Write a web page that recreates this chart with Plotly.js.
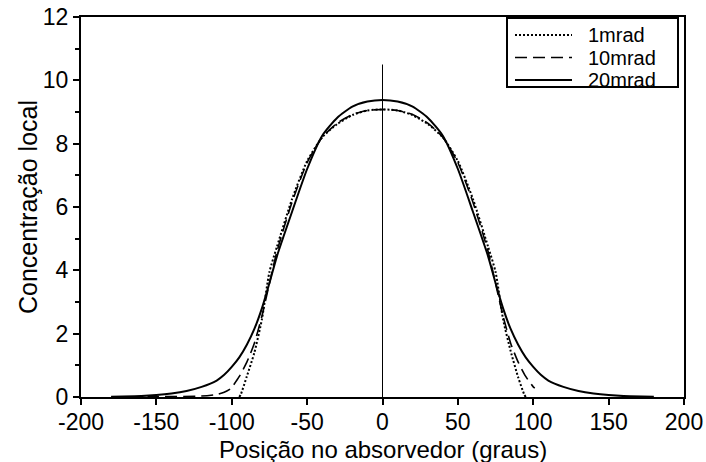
<!DOCTYPE html>
<html>
<head>
<meta charset="utf-8">
<script src="https://cdn.plot.ly/plotly-3.0.1.min.js"></script>
<style>html,body{margin:0;padding:0;background:#fff}#chart{width:706px;height:462px}</style>
</head>
<body>
<div id="chart"></div>
<script>
// Data
const seriesNames = ["1mrad", "10mrad", "20mrad"];
const seriesDash = ["2px,2px", "12px,6px", "solid"];
const seriesWidth = [2, 1.6, 2];

const x1mrad = [-95, -94, -90, -85, -80, -75, -70, -60, -50, -40, -30, -20, -10, 0, 10, 20, 30, 40, 50, 60, 70, 75, 80, 85, 90, 94, 95];
const y1mrad = [0, 0.08, 0.65, 1.4, 2.45, 3.95, 4.75, 6.25, 7.45, 8.2, 8.62, 8.9, 9.05, 9.08, 9.05, 8.9, 8.62, 8.2, 7.45, 6.25, 4.75, 3.95, 2.45, 1.45, 0.62, 0.08, 0];

const x10mrad = [-180, -150, -120, -110, -105, -101, -100, -95, -90, -85, -80, -70, -60, -50, -40, -30, -20, -10, 0, 10, 20, 30, 40, 50, 60, 70, 80, 85, 90, 95, 100, 101];
const y10mrad = [0, 0.01, 0.03, 0.08, 0.15, 0.25, 0.3, 0.65, 1.1, 1.7, 2.55, 4.6, 6.15, 7.4, 8.2, 8.65, 8.92, 9.05, 9.08, 9.05, 8.92, 8.65, 8.2, 7.4, 6.15, 4.6, 2.55, 1.7, 1.1, 0.65, 0.32, 0.28];

const x20mrad = [-180, -160, -150, -140, -130, -120, -110, -105, -100, -95, -90, -85, -80, -75, -70, -60, -50, -40, -30, -20, -10, 0, 10, 20, 30, 40, 50, 60, 70, 75, 80, 85, 90, 95, 100, 105, 110, 120, 130, 140, 150, 160, 180];
const y20mrad = [0.01, 0.03, 0.06, 0.11, 0.19, 0.32, 0.52, 0.7, 0.95, 1.25, 1.65, 2.15, 2.8, 3.6, 4.45, 5.85, 7.2, 8.25, 8.82, 9.17, 9.33, 9.38, 9.33, 9.17, 8.82, 8.25, 7.2, 5.85, 4.45, 3.6, 2.8, 2.15, 1.65, 1.25, 0.95, 0.7, 0.52, 0.32, 0.19, 0.11, 0.06, 0.03, 0.01];

const centerLineX = 0;
const centerLineTop = 10.5;

const xTickVals = [-200, -150, -100, -50, 0, 50, 100, 150, 200];
const xTickText = ["-200", "-150", "-100", "-50", "0", "50", "100", "150", "200"];
const yTickVals = [0, 2, 4, 6, 8, 10, 12];
const yTickText = ["0", "2", "4", "6", "8", "10", "12"];
const xTitle = "Posição no absorvedor (graus)";
const yTitle = "Concentração local";

const font = "Liberation Sans, Arial, sans-serif";
const fs = 23;
const legFs = 20;

const W = 706, H = 462;
const M = {l: 81, r: 22, t: 17, b: 65};
const pw = W - M.l - M.r, ph = H - M.t - M.b;
const px = v => (v - M.l) / pw;       // pixel x -> paper x
const py = v => 1 - (v - M.t) / ph;   // pixel y -> paper y

const xs = [x1mrad, x10mrad, x20mrad];
const ys = [y1mrad, y10mrad, y20mrad];

const traces = xs.map((x, i) => ({
  x: x, y: ys[i], name: seriesNames[i], mode: "lines", showlegend: false,
  line: {color: "#000", width: seriesWidth[i], dash: seriesDash[i], shape: "spline", smoothing: 0.6}
}));

// Legend box (drawn by hand so the rows can be as tight as in the reference)
const legBox = {x0: 507, x1: 678, y0: 18, y1: 87};
const legRows = [35, 57.5, 80];
const legLine = [515, 572];
const legTextX = 587;

const shapes = [
  {type: "line", xref: "x", yref: "y", x0: centerLineX, x1: centerLineX, y0: 0, y1: centerLineTop,
   line: {color: "#000", width: 1}},
  {type: "rect", xref: "paper", yref: "paper", x0: px(legBox.x0), x1: px(legBox.x1), y0: py(legBox.y1), y1: py(legBox.y0),
   fillcolor: "#fff", line: {color: "#000", width: 2}, layer: "above"}
];
const annotations = [
  {xref: "paper", yref: "paper", x: 0.5, y: py(449), xanchor: "center", yanchor: "middle",
   text: xTitle, showarrow: false, borderpad: 0, font: {family: font, size: 24, color: "#000"}},
  {xref: "paper", yref: "paper", x: px(28), y: 0.5, xanchor: "center", yanchor: "middle", textangle: -90,
   text: yTitle, showarrow: false, borderpad: 0, font: {family: font, size: 25, color: "#000"}}
];
seriesNames.forEach((n, i) => {
  shapes.push({type: "line", xref: "paper", yref: "paper", x0: px(legLine[0]), x1: px(legLine[1]),
    y0: py(legRows[i]), y1: py(legRows[i]), layer: "above",
    line: {color: "#000", width: seriesWidth[i], dash: seriesDash[i]}});
  annotations.push({xref: "paper", yref: "paper", x: px(legTextX), y: py(legRows[i]), xanchor: "left", yanchor: "middle",
    text: n, showarrow: false, borderpad: 0, font: {family: font, size: legFs, color: "#000"}});
});

const layout = {
  width: W, height: H,
  margin: M,
  paper_bgcolor: "#fff", plot_bgcolor: "#fff",
  showlegend: false,
  font: {family: font, color: "#000", size: fs},
  xaxis: {
    range: [-200, 200], tickmode: "array", tickvals: xTickVals, ticktext: xTickText,
    ticks: "outside", ticklen: 6, tickwidth: 2, tickcolor: "#000", ticklabelstandoff: -3,
    showline: true, linewidth: 2, linecolor: "#000", mirror: true,
    showgrid: false, zeroline: false,
    tickfont: {family: font, size: fs, color: "#000"}
  },
  yaxis: {
    range: [0, 12], tickmode: "array", tickvals: yTickVals, ticktext: yTickText,
    ticks: "outside", ticklen: 6, tickwidth: 2, tickcolor: "#000",
    minor: {dtick: 1, ticks: "outside", ticklen: 4, tickwidth: 2, tickcolor: "#000", showgrid: false},
    showline: true, linewidth: 2, linecolor: "#000", mirror: true,
    showgrid: false, zeroline: false,
    tickfont: {family: font, size: fs, color: "#000"}
  },
  shapes: shapes,
  annotations: annotations
};

Plotly.newPlot("chart", traces, layout, {displayModeBar: false, staticPlot: true});
</script>
</body>
</html>
